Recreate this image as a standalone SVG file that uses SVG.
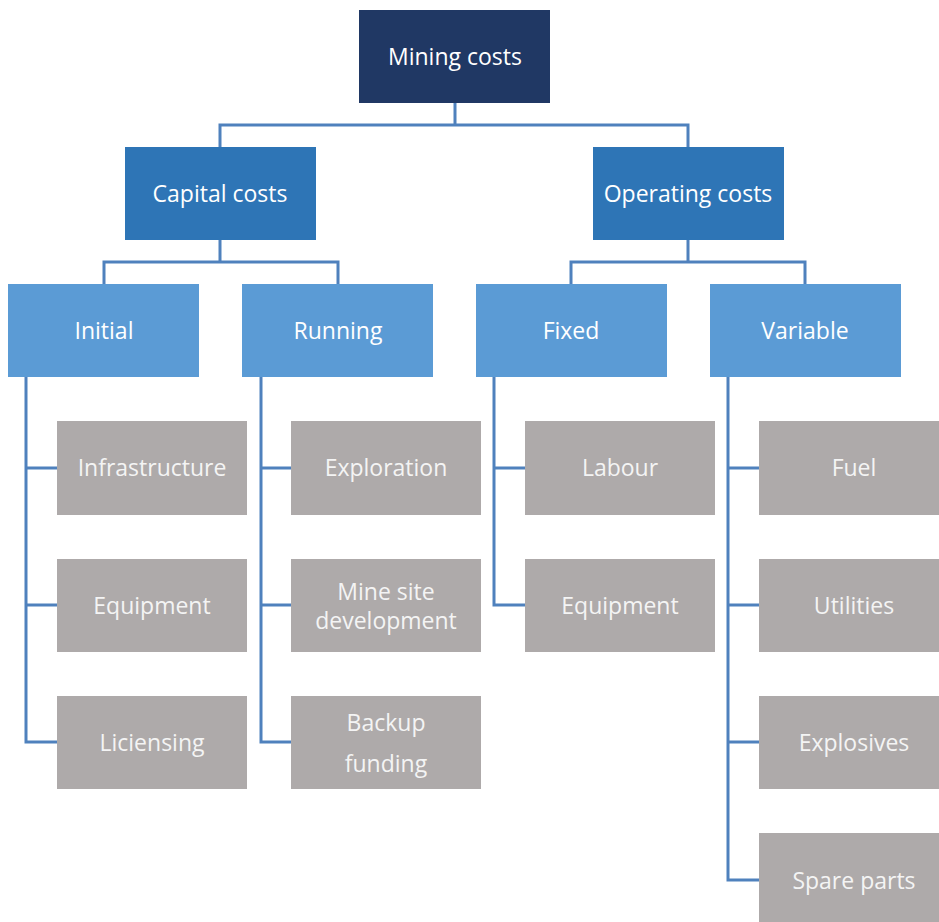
<svg xmlns="http://www.w3.org/2000/svg" width="939" height="922" viewBox="0 0 939 922">
<style>
.n0{fill:#203864}
.n1{fill:#2E75B6}
.n2{fill:#5B9BD5}
.n3{fill:#AEAAAA}
text{font-family:"Open Sans","Noto Sans",sans-serif;font-size:23px;fill:#FFFFFF;text-anchor:middle;dominant-baseline:central}
.g{fill:#F4F4F4}
.c{fill:none;stroke:#4F81BD;stroke-width:3}
</style>
<rect width="939" height="922" fill="#FFFFFF"/>
<g id="connectors">
<path class="c" d="M455,103V125M220,147V125H688V147"/>
<path class="c" d="M220,240V262M104,284V262H338V284"/>
<path class="c" d="M688,240V262M571,284V262H805V284"/>
<path class="c" d="M26,377V742H57M26,468H57M26,605H57"/>
<path class="c" d="M261,377V742H291M261,468H291M261,605H291"/>
<path class="c" d="M494,377V605H525M494,468H525"/>
<path class="c" d="M728,377V880H759M728,468H759M728,605H759M728,742H759"/>
</g>
<g id="mining"><rect class="n0" x="359" y="10" width="191" height="93"/><text x="455" y="56">Mining costs</text></g>
<g id="capital"><rect class="n1" x="125" y="147" width="191" height="93"/><text x="220" y="193">Capital costs</text></g>
<g id="operating"><rect class="n1" x="593" y="147" width="191" height="93"/><text x="688" y="193">Operating costs</text></g>
<g id="initial"><rect class="n2" x="8" y="284" width="191" height="93"/><text x="104" y="330">Initial</text></g>
<g id="running"><rect class="n2" x="242" y="284" width="191" height="93"/><text x="338" y="330">Running</text></g>
<g id="fixed"><rect class="n2" x="476" y="284" width="191" height="93"/><text x="571" y="330">Fixed</text></g>
<g id="variable"><rect class="n2" x="710" y="284" width="191" height="93"/><text x="805" y="330">Variable</text></g>
<g id="infrastructure"><rect class="n3" x="57" y="421" width="190" height="94"/><text class="g" x="152" y="467">Infrastructure</text></g>
<g id="equipment1"><rect class="n3" x="57" y="559" width="190" height="93"/><text class="g" x="152" y="605">Equipment</text></g>
<g id="liciensing"><rect class="n3" x="57" y="696" width="190" height="93"/><text class="g" x="152" y="742">Liciensing</text></g>
<g id="exploration"><rect class="n3" x="291" y="421" width="190" height="94"/><text class="g" x="386" y="467">Exploration</text></g>
<g id="minesite"><rect class="n3" x="291" y="559" width="190" height="93"/><text class="g" x="386" y="591">Mine site</text><text class="g" x="386" y="620">development</text></g>
<g id="backup"><rect class="n3" x="291" y="696" width="190" height="93"/><text class="g" x="386" y="722">Backup</text><text class="g" x="386" y="763">funding</text></g>
<g id="labour"><rect class="n3" x="525" y="421" width="190" height="94"/><text class="g" x="620" y="467">Labour</text></g>
<g id="equipment2"><rect class="n3" x="525" y="559" width="190" height="93"/><text class="g" x="620" y="605">Equipment</text></g>
<g id="fuel"><rect class="n3" x="759" y="421" width="190" height="94"/><text class="g" x="854" y="467">Fuel</text></g>
<g id="utilities"><rect class="n3" x="759" y="559" width="190" height="93"/><text class="g" x="854" y="605">Utilities</text></g>
<g id="explosives"><rect class="n3" x="759" y="696" width="190" height="93"/><text class="g" x="854" y="742">Explosives</text></g>
<g id="spareparts"><rect class="n3" x="759" y="833" width="190" height="93"/><text class="g" x="854" y="880">Spare parts</text></g>
</svg>
